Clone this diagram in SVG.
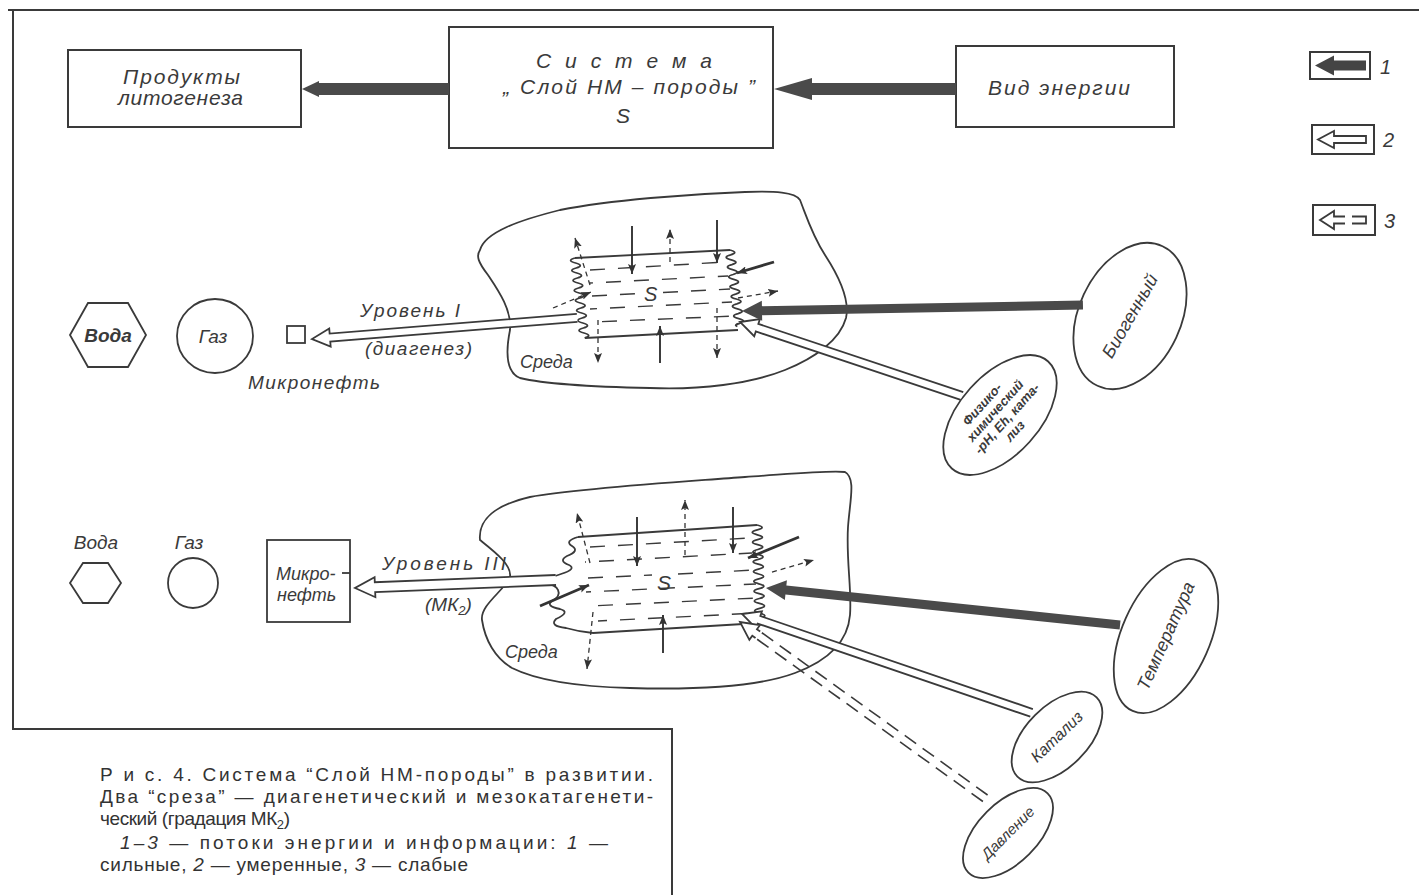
<svg xmlns="http://www.w3.org/2000/svg" width="1419" height="895" viewBox="0 0 1419 895">
<defs>
<style>
.box{fill:none;stroke:#3a3a3a;stroke-width:2}
.ln{fill:none;stroke:#3a3a3a;stroke-width:1.8}
.hw{font-family:"Liberation Sans","DejaVu Sans",sans-serif;font-style:italic;fill:#3a3a3a}
.cap{font-family:"Liberation Sans Narrow","Liberation Sans",sans-serif;fill:#333;font-size:19px}
.hollow{fill:#fff;stroke:#3a3a3a;stroke-width:1.8}
.bar{fill:#4a4a4a}
.row{fill:none;stroke:#3a3a3a;stroke-width:1.4;stroke-dasharray:15 13}
.sa{fill:none;stroke:#333;stroke-width:1.9;marker-end:url(#ah)}
.da{fill:none;stroke:#333;stroke-width:1.3;stroke-dasharray:5 4;marker-end:url(#ah)}
.ta{fill:none;stroke:#333;stroke-width:2.8;marker-end:url(#ah)}
</style>
<marker id="ah" viewBox="0 0 10 8" markerWidth="10" markerHeight="8" refX="10" refY="4" orient="auto" markerUnits="userSpaceOnUse">
<path d="M0,0 L10,4 L0,8 L2,4 Z" fill="#333"/>
</marker>
</defs>
<rect width="1419" height="895" fill="#fff"/>

<g id="frame">
<path class="box" d="M8,10 H1419 M13,10 V729 H672 V895"/>
</g>

<g id="n-produkty">
<rect class="box" x="68" y="50" width="233" height="77"/>
<text class="hw" x="123" y="84" font-size="21" textLength="117">Продукты</text>
<text class="hw" x="118" y="105" font-size="21" textLength="125">литогенеза</text>
</g>
<g id="n-sistema">
<rect class="box" x="449" y="27" width="324" height="121"/>
<text class="hw" x="536" y="68" font-size="21" textLength="176">С и с т е м а</text>
<text class="hw" x="503" y="94" font-size="21" textLength="252">„ Слой НМ – породы ”</text>
<text class="hw" x="616" y="123" font-size="21">S</text>
</g>
<g id="n-vid">
<rect class="box" x="956" y="46" width="218" height="81"/>
<text class="hw" x="988" y="95" font-size="21" textLength="142">Вид  энергии</text>
</g>

<g id="legend">
<g id="legend-1">
<rect class="box" x="1310" y="52" width="60" height="27"/>
<polygon points="1315,65.5 1334,55.5 1334,60.5 1366,60.5 1366,70.5 1334,70.5 1334,75.5" fill="#444"/>
<text class="hw" x="1380" y="74" font-size="20">1</text>
</g>
<g id="legend-2">
<rect class="box" x="1312" y="125" width="62" height="29"/>
<path class="hollow" d="M1366,136 H1334 V131 L1318,139.5 L1334,148 V143 H1366 Z"/>
<text class="hw" x="1383" y="147" font-size="20">2</text>
</g>
<g id="legend-3">
<rect class="box" x="1313" y="205" width="62" height="30"/>
<path class="hollow" d="M1345,216.5 H1334 V211 L1320,220 L1334,229 V223.5 H1345"/>
<path class="ln" d="M1352,216.5 H1366 V223.5 H1352"/>
<text class="hw" x="1384" y="228" font-size="20">3</text>
</g>
</g>

<g id="n-sreda1">
<path class="ln" d="M480,250 C485,232 520,220 560,210 C610,200 690,194 745,192 C775,191 795,192 800,200 C806,215 812,235 825,255 C840,278 850,300 846,318 C840,340 815,358 785,370 C750,384 700,390 650,388 C600,387 545,384 520,378 C505,372 506,350 510,330 C512,310 498,290 488,275 C478,262 476,256 480,250 Z"/>
<text class="hw" x="520" y="368" font-size="18">Среда</text>
</g>
<g id="n-sloy1">
<path class="ln" d="M575,258 L730,250 M585,338 L738,330"/>
<path class="ln" d="M575,258 q-9,2.5 0.6,5 q9,2.5 0.6,5 q-9,2.5 0.6,5 q9,2.5 0.6,5 q-9,2.5 0.6,5 q9,2.5 0.6,5 q-9,2.5 0.6,5 q9,2.5 0.6,5 q-9,2.5 0.6,5 q9,2.5 0.6,5 q-9,2.5 0.6,5 q9,2.5 0.6,5 q-9,2.5 0.6,5 q9,2.5 0.6,5 q-9,2.5 0.6,5 q9,2.5 0.6,5"/>
<path class="ln" d="M730,250 q9,2.4 0.6,4.9 q-9,2.4 0.65,4.9 q9,2.4 0.6,4.9 q-9,2.4 0.65,4.9 q9,2.4 0.6,4.9 q-9,2.4 0.65,4.9 q9,2.4 0.6,4.9 q-9,2.4 0.65,4.9 q9,2.4 0.6,4.9 q-9,2.4 0.65,4.9 q9,2.4 0.6,4.9 q-9,2.4 0.65,4.9 q9,2.4 0.6,4.9 q-9,2.4 0.65,4.9 q9,2.4 0.6,4.9 q-6,1.4 -2,3"/>
<path class="row" d="M590,270 L726,262"/>
<path class="row" stroke-dashoffset="12" d="M590,283 L728,276"/>
<path class="row" d="M592,296 L640,293.5 M663,292.5 L730,289"/>
<path class="row" stroke-dashoffset="8" d="M590,309 L732,302"/>
<path class="row" stroke-dashoffset="18" d="M592,322 L735,316"/>
<text class="hw" x="644" y="301" font-size="20">S</text>
</g>

<g id="n-voda1">
<polygon class="ln" points="70,335 88,303 128,303 146,335 128,367 88,367"/>
<text class="hw" x="108" y="342" font-size="19" font-weight="bold" text-anchor="middle">Вода</text>
</g>
<g id="n-gaz1">
<ellipse class="ln" cx="215" cy="336" rx="38" ry="37"/>
<text class="hw" x="213" y="343" font-size="19" text-anchor="middle">Газ</text>
</g>
<g id="n-mikroneft1">
<rect class="ln" x="287" y="326" width="18" height="17"/>
<text class="hw" x="248" y="389" font-size="19" textLength="132">Микронефть</text>
</g>
<g id="lbl-level1">
<text class="hw" x="360" y="317" font-size="19" textLength="100">Уровень I</text>
<text class="hw" x="365" y="355" font-size="19" textLength="107">(диагенез)</text>
</g>

<g id="n-biogenny" transform="translate(1130,316)">
<ellipse class="ln" rx="51" ry="77" transform="rotate(25)"/>
<text class="hw" transform="rotate(-60)" y="6" font-size="18" text-anchor="middle">Биогенный</text>
</g>
<g id="n-fiziko" transform="translate(1000,415)">
<ellipse class="ln" rx="72" ry="40" transform="rotate(-48)"/>
<g transform="rotate(-48)" class="hw" font-size="13" font-weight="bold" text-anchor="middle">
<text x="-4" y="-16">Физико-</text>
<text x="0" y="-2">химический</text>
<text x="2" y="12">-pH, Eh, ката-</text>
<text x="-2" y="26">лиз</text>
</g>
</g>

<g id="n-sreda2">
<path class="ln" d="M480,540 C478,520 495,505 530,497 C580,488 680,482 745,477 C790,474 830,470 845,472 C856,478 850,500 848,527 C846,560 852,590 850,615 C848,640 830,660 795,673 C760,686 700,690 630,688 C590,687 540,682 512,668 C495,658 485,640 482,620 C480,605 505,590 510,577 C512,565 495,552 480,540 Z"/>
<text class="hw" x="505" y="658" font-size="18">Среда</text>
</g>
<g id="n-sloy2">
<path class="ln" d="M578,537 L757,525 M593,633 L760,623"/>
<path class="ln" d="M578,537 Q564,541 572,546 Q580,551 567,556 Q558,561 569,565 Q577,569 561,574 Q548,578 545,583 Q556,585 558,590 Q561,596 552,601 Q545,606 560,609 Q571,612 556,619 Q549,626 566,628 Q580,632 593,633"/>
<path class="ln" d="M757,525 q10,2.45 0.3,4.9 q-10,2.45 0,4.9 q10,2.45 0.3,4.9 q-10,2.45 0,4.9 q10,2.45 0.3,4.9 q-10,2.45 0,4.9 q10,2.45 0.3,4.9 q-10,2.45 0,4.9 q10,2.45 0.3,4.9 q-10,2.45 0,4.9 q10,2.45 0.3,4.9 q-10,2.45 0,4.9 q10,2.45 0.3,4.9 q-10,2.45 0,4.9 q10,2.45 0.3,4.9 q-10,2.45 0,4.9 q10,2.45 0.3,4.9 q-10,2.45 0,4.9 q10,2.45 0.3,4.9 q-8,2.45 0,4.9"/>
<path class="row" d="M590,547 L750,538"/>
<path class="row" stroke-dashoffset="14" d="M585,562 L752,553"/>
<path class="row" d="M588,578 L652,575 M678,574 L755,570"/>
<path class="row" stroke-dashoffset="10" d="M586,592 L756,584"/>
<path class="row" stroke-dashoffset="20" d="M590,606 L757,598"/>
<path class="row" stroke-dashoffset="6" d="M598,621 L758,613"/>
<text class="hw" x="657" y="590" font-size="21">S</text>
</g>

<g id="n-voda2">
<polygon class="ln" points="70,583 83,563 108,563 121,583 108,603 83,603"/>
<text class="hw" x="96" y="549" font-size="19" text-anchor="middle">Вода</text>
</g>
<g id="n-gaz2">
<circle class="ln" cx="193" cy="583" r="25"/>
<text class="hw" x="189" y="549" font-size="19" text-anchor="middle">Газ</text>
</g>
<g id="n-mikroneft2">
<rect class="ln" x="267" y="540" width="83" height="82"/>
<text class="hw" x="276" y="580" font-size="18">Микро-</text>
<path class="ln" d="M342,573 H350"/>
<text class="hw" x="277" y="601" font-size="18">нефть</text>
</g>
<g id="lbl-level3">
<text class="hw" x="382" y="570" font-size="19" textLength="124">Уровень III</text>
<text class="hw" x="425" y="611" font-size="19">(МК<tspan font-size="13" dy="4">2</tspan><tspan dy="-4">)</tspan></text>
</g>

<g id="n-temperatura" transform="translate(1166,636)">
<ellipse class="ln" rx="44" ry="82" transform="rotate(24)"/>
<text class="hw" transform="rotate(-66)" y="6" font-size="18" text-anchor="middle">Температура</text>
</g>
<g id="n-kataliz" transform="translate(1057,737)">
<ellipse class="ln" rx="56" ry="31" transform="rotate(-45)"/>
<text class="hw" transform="rotate(-44)" y="5" font-size="16" text-anchor="middle">Катализ</text>
</g>
<g id="n-davlenie" transform="translate(1008,833)">
<ellipse class="ln" rx="56" ry="30" transform="rotate(-45)"/>
<text class="hw" transform="rotate(-45)" y="5" font-size="15" text-anchor="middle">Давление</text>
</g>

<g id="connectors">
<polygon class="bar" points="302,89 319,81 319,83 449,83 449,95 319,95 319,97"/>
<polygon class="bar" points="774,89 812,78 812,83 956,83 956,95 812,95 812,100"/>

<path class="hollow" transform="translate(312,339) rotate(-4.57)" d="M266,-4 H18 V-9 L0,0 L18,9 V4 H266"/>
<path class="hollow" transform="translate(740,322) rotate(18.43)" d="M234,-4 H18 V-9 L0,0 L18,9 V4 H234"/>
<polygon class="bar" transform="translate(742,311) rotate(-1)" points="0,0 20,-10 20,-4.5 341,-4.5 341,4.5 20,4.5 20,10"/>

<path class="hollow" transform="translate(355,588) rotate(-2.28)" d="M201,-5 H20 V-10 L0,0 L20,10 V5 H201"/>
<polygon class="bar" transform="translate(766,588) rotate(5.97)" points="0,0 20,-10 20,-4.5 356,-4.5 356,4.5 20,4.5 20,10"/>
<path class="hollow" transform="translate(742,614) rotate(18.85)" d="M306,-4 H18 V-9 L0,0 L18,9 V4 H306"/>
<g transform="translate(740,622) rotate(35.7)">
<path class="hollow" d="M22,-4 H18 V-9 L0,0 L18,9 V4 H22"/>
<path fill="none" stroke="#3a3a3a" stroke-width="1.6" stroke-dasharray="14 8" d="M24,-4 H310 M24,4 H310"/>
</g>

<path class="da" d="M590,285 L575,238"/>
<path class="sa" d="M632,226 L632,274"/>
<path class="da" d="M670,262 L670,229"/>
<path class="sa" d="M717,220 L717,263"/>
<path class="ta" d="M774,262 L737,273"/>
<path class="da" d="M738,298 L778,291"/>
<path class="da" d="M553,308 L591,292"/>
<path class="da" d="M598,320 L598,363"/>
<path class="da" d="M717,308 L717,358"/>
<path class="sa" d="M660,363 L660,326"/>

<path class="da" d="M590,563 L577,513"/>
<path class="sa" d="M637,517 L637,566"/>
<path class="da" d="M685,555 L685,500"/>
<path class="sa" d="M733,507 L733,553"/>
<path class="ta" d="M799,537 L748,558"/>
<path class="da" d="M772,572 L814,560"/>
<path class="ta" d="M540,606 L589,585"/>
<path class="da" d="M593,612 L587,669"/>
<path class="sa" d="M663,653 L663,615"/>
</g>

<g id="caption">
<text class="cap" x="100" y="781" textLength="553">Р и с.  4.  Система “Слой НМ-породы” в развитии.</text>
<text class="cap" x="100" y="803" textLength="553">Два “среза” — диагенетический и мезокатагенети-</text>
<text class="cap" x="100" y="825" textLength="190">ческий (градация МК<tspan font-size="13" dy="4">2</tspan><tspan dy="-4">)</tspan></text>
<text class="cap" x="120" y="849" textLength="488"><tspan font-style="italic">1–3</tspan> — потоки энергии и информации:  <tspan font-style="italic">1</tspan> —</text>
<text class="cap" x="100" y="871" textLength="368">сильные, <tspan font-style="italic">2</tspan> — умеренные, <tspan font-style="italic">3</tspan> — слабые</text>
</g>
</svg>
